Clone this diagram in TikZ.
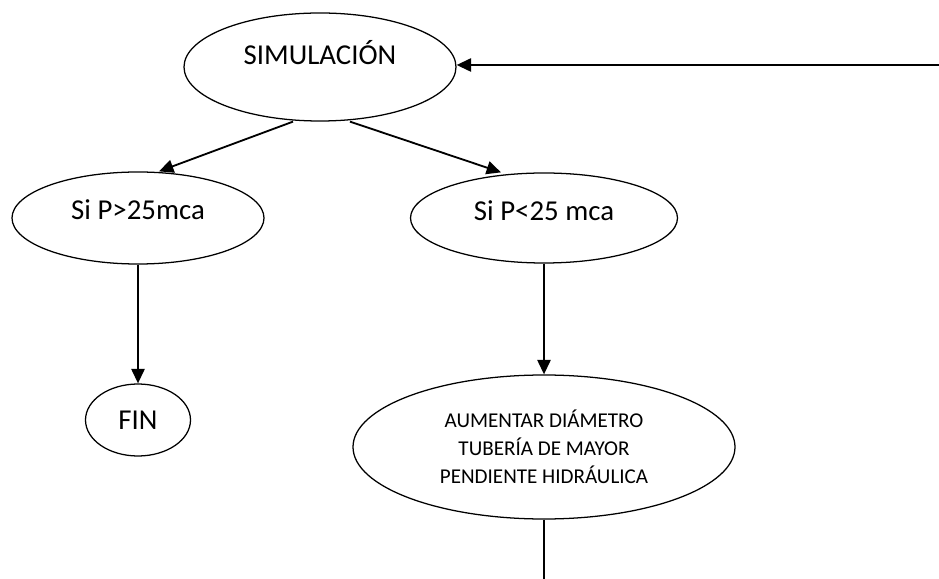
\documentclass[tikz,border=0pt]{standalone}
\usepackage{fontspec}
\setmainfont{Carlito}
\usetikzlibrary{shapes.geometric,arrows.meta,positioning}

\begin{document}
\begin{tikzpicture}[
  >={Triangle[length=3.6mm, width=3.3mm]},
  elli/.style={draw, ellipse, line width=0.9pt, inner sep=0pt,
    font=\fontsize{20.5}{24.6}\selectfont},
  small/.style={font=\fontsize{15}{19.9}\selectfont, align=center},
  every path/.style={line width=1.3pt},
]
\useasboundingbox (0,0) rectangle (23.475,-14.475);
% nodes
\node[elli, minimum width=6.8cm, minimum height=2.7cm, text depth=0.75cm] (sim) at (8.0,-1.675) {SIMULACIÓN};
\node[elli, minimum width=6.3cm, minimum height=2.3cm, text depth=0.4cm] (p1) at (3.45,-5.45) {Si P>25mca};
\node[elli, minimum width=6.675cm, minimum height=2.25cm, text depth=0.35cm] (p2) at (13.6,-5.45) {Si P<25 mca};
\node[elli, minimum width=2.625cm, minimum height=1.8cm] (fin) at (3.45,-10.5) {FIN};
\node[elli, small, minimum width=9.55cm, minimum height=3.6cm] (aum) at (13.6,-11.175)
  {AUMENTAR DIÁMETRO\\TUBERÍA DE MAYOR\\PENDIENTE HIDRÁULICA};
% free ends
\coordinate (back) at (23.6,-1.625);
\coordinate (down) at (13.6,-14.6);
% edges
\draw[->] ([xshift=-0.675cm]sim.south) -- ([xshift=0.525cm]p1.north);
\draw[->] ([xshift=0.75cm]sim.south) -- ([xshift=-1.075cm]p2.north);
\draw[->] (p1.south) -- (fin.north);
\draw[->] (p2.south) -- (aum.north);
\draw (aum.south) -- (down);
\draw[->] (back) -- (sim.east |- back);
\end{tikzpicture}
\end{document}
